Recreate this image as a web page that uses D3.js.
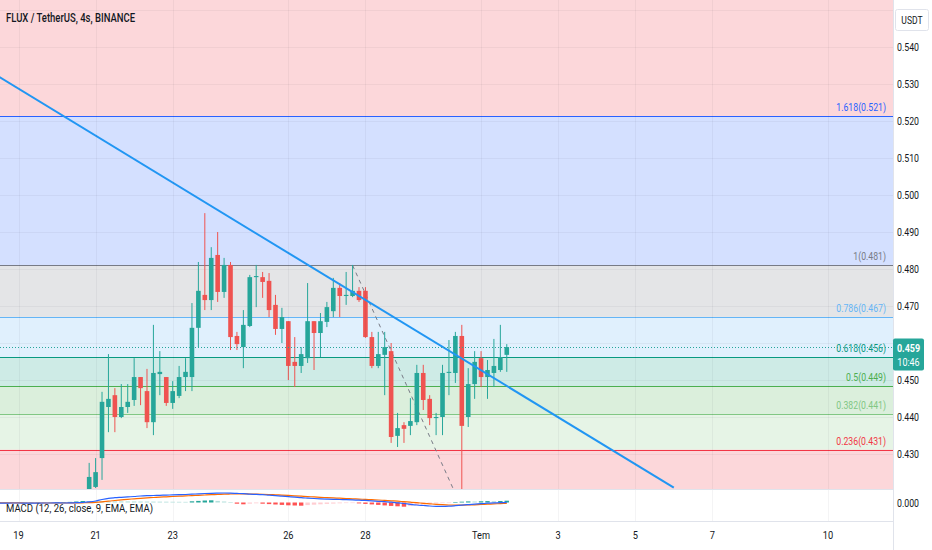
<!DOCTYPE html>
<html><head><meta charset="utf-8">
<script src="https://cdn.jsdelivr.net/npm/d3@7"></script>
<style>
html,body{margin:0;padding:0;background:#fff;}
svg{display:block;font-family:Roboto,"Liberation Sans",Arial,sans-serif;}
</style></head><body>
<svg id="chart" width="932" height="550"></svg>
<script>
// ---------------- DATA ----------------
const title = "FLUX / TetherUS, 4s, BINANCE";
const macdTitle = "MACD (12, 26, close, 9, EMA, EMA)";
const candleStart = new Date(2023, 5, 20, 20); // first visible 4h bar
const barHours = 4;
const opens = [
 .4189,.4211,.4289,.4427,.4459,.4400,.4427,.4446,.4508,.4470,
 .4386,.4516,.4508,.4438,.4457,.4508,.4508,.4641,.4730,.4716,
 .4838,.4738,.4811,.4619,.4589,.4646,.4778,.4778,.4768,.4703,
 .4638,.4659,.4549,.4538,.4559,.4659,.4627,.4657,.4686,.4749,
 .4727,.4727,.4741,.4741,.4616,.4538,.4568,.4578,.4349,.4378,
 .4376,.4386,.4519,.4449,.4397,.4400,.4519,.4519,.4619,.4400,
 .4489,.4559,.4508,.4519,.4527,.4568];
const highs = [
 .4276,.4289,.4468,.4570,.4478,.4489,.4489,.4559,.4508,.4530,
 .4649,.4578,.4508,.4497,.4538,.4559,.4708,.4819,.4951,.4859,
 .4900,.4830,.4819,.4630,.4689,.4784,.4811,.4792,.4789,.4730,
 .4695,.4659,.4616,.4589,.4762,.4659,.4681,.4711,.4776,.4762,
 .4792,.4811,.4751,.4751,.4630,.4630,.4630,.4600,.4411,.4386,
 .4451,.4541,.4541,.4459,.4411,.4541,.4608,.4630,.4649,.4532,
 .4578,.4578,.4554,.4611,.4649,.4597];
const lows = [
 .4176,.4208,.4230,.4359,.4359,.4397,.4411,.4430,.4432,.4370,
 .4351,.4459,.4430,.4422,.4451,.4470,.4470,.4589,.4689,.4689,
 .4711,.4722,.4581,.4581,.4532,.4643,.4697,.4722,.4670,.4622,
 .4600,.4500,.4481,.4519,.4546,.4527,.4562,.4643,.4670,.4670,
 .4703,.4724,.4711,.4614,.4532,.4532,.4459,.4330,.4319,.4330,
 .4351,.4378,.4419,.4378,.4351,.4351,.4459,.4492,.4195,.4373,
 .4449,.4481,.4449,.4481,.4522,.4522];
const closes = [
 .4238,.4251,.4441,.4449,.4400,.4427,.4441,.4508,.4478,.4386,
 .4519,.4522,.4438,.4470,.4508,.4522,.4641,.4741,.4716,.4830,
 .4738,.4811,.4616,.4597,.4649,.4778,.4781,.4765,.4689,.4638,
 .4670,.4538,.4538,.4570,.4659,.4627,.4659,.4697,.4749,.4727,
 .4730,.4741,.4716,.4616,.4538,.4570,.4589,.4346,.4370,.4368,
 .4389,.4519,.4446,.4397,.4400,.4519,.4522,.4619,.4376,.4489,
 .4549,.4508,.4527,.4538,.4562,.4589];

// MACD pane (values in units of 0.001), starting earlier than visible candles
const macdStart = new Date(2023, 5, 18, 12);
const macdLine = [
 -0.6,-0.6,-0.5,-0.5,-0.6,-0.7,-0.6,-0.5,-0.5,-0.4,
 -0.5,-0.4,-0.2,0.0,0.6,1.5,3.0,4.2,4.8,5.2,
 5.6,6.0,6.5,6.8,7.0,7.2,7.4,7.6,7.8,8.0,
 8.3,8.7,9.0,9.2,9.4,9.5,9.4,9.1,8.8,8.3,
 8.1,7.8,7.3,6.9,6.4,5.9,5.4,4.8,4.4,4.0,
 3.7,3.4,3.2,3.0,2.8,2.6,2.3,2.1,1.7,1.2,
 0.8,0.4,-0.3,-1.0,-1.8,-2.5,-3.0,-3.5,-3.8,-3.9,
 -3.7,-3.2,-2.6,-2.1,-1.6,-1.2,-0.7,-0.4,-0.2,0.2];
const signalLine = [
 -0.4,-0.4,-0.4,-0.4,-0.5,-0.5,-0.5,-0.5,-0.5,-0.5,
 -0.5,-0.5,-0.4,-0.3,-0.2,0.1,0.6,1.3,2.0,2.6,
 3.2,3.7,4.2,4.6,5.0,5.4,5.7,6.0,6.3,6.6,
 6.9,7.2,7.5,7.8,8.0,8.3,8.5,8.6,8.6,8.5,
 8.4,8.2,8.0,7.7,7.4,7.1,6.7,6.3,5.9,5.6,
 5.2,4.9,4.6,4.3,4.0,3.7,3.4,3.1,2.8,2.5,
 2.1,1.7,1.3,0.8,0.3,-0.2,-0.8,-1.3,-1.8,-2.2,
 -2.5,-2.6,-2.6,-2.5,-2.3,-2.0,-1.7,-1.4,-1.1,-0.8];
const histogram = [
 0.3,0.3,0.3,0.2,0.2,0.2,0.2,0.2,0.2,0.3,
 0.4,0.6,1.0,1.5,1.4,1.35,1.3,1.25,1.2,1.15,
 1.1,1.05,1.0,0.95,0.9,0.85,0.8,0.75,0.7,0.65,
 1.2,1.6,2.0,2.2,1.6,1.0,0.5,-1.2,-1.8,-1.2,
 -0.8,-1.2,-1.6,-2.0,-2.4,-2.8,-3.0,-3.2,-2.6,-2.2,
 -1.8,-1.4,-1.1,-0.8,-0.6,-0.4,-0.9,-1.4,-1.9,-2.4,
 -2.9,-3.4,-3.8,-4.2,-3.5,-2.8,-2.1,-1.5,-1.0,-0.6,
 -0.3,0.4,0.8,1.1,1.0,1.2,1.4,1.3,1.5,1.8];

// Fibonacci retracement
const fibLow = 0.4158, fibHigh = 0.4810;
const fibLevels = [2.618, 1.618, 1, 0.786, 0.618, 0.5, 0.382, 0.236, 0];
const fibColors = ["#f23645","#2962ff","#787b86","#64b5f6","#089981","#4caf50","#81c784","#f23645","#787b86"];
const fibLabels = ["", "1.618(0.521)", "1(0.481)", "0.786(0.467)", "0.618(0.456)", "0.5(0.449)", "0.382(0.441)", "0.236(0.431)", ""];

// Drawings
const trendDates = [new Date(2023,5,18,12), new Date(2023,6,6,0)];
const trendPrices = [0.5319, 0.4209];
const pathDates = [new Date(2023,5,27,16), new Date(2023,5,30,8)];
const pathPrices = [0.4810, 0.4193];

// Axes (0.460 is hidden behind the last-price label)
const priceTicks = [0.430,0.440,0.450,0.470,0.480,0.490,0.500,0.510,0.520,0.530,0.540];
const gridPrices = [0.430,0.440,0.450,0.460,0.470,0.480,0.490,0.500,0.510,0.520,0.530,0.540,0.550];
const timeTicks = [new Date(2023,5,19),new Date(2023,5,21),new Date(2023,5,23),new Date(2023,5,26),new Date(2023,5,28),
                   new Date(2023,6,1),new Date(2023,6,3),new Date(2023,6,5),new Date(2023,6,7),new Date(2023,6,10)];
const timeLabels = ["19","21","23","26","28","Tem","3","5","7","10"];
const lastPrice = 0.459, lastPriceText = "0.459", countdown = "10:46";
const currency = "USDT";

// ---------------- LAYOUT ----------------
const W = 932, axisX = 893, mainBottom = 489, macdTop = 490, macdBottom = 521;
const svg = d3.select("#chart");
const x = d3.scaleTime().domain([new Date(2023,5,19), new Date(2023,6,10)]).range([18.5, 828]);
const y = d3.scaleLinear().domain([0.430, 0.540]).range([454, 47]);
const ym = d3.scaleLinear().domain([0, 10]).range([502.5, 492.5]);
const fibPrice = l => fibLow + l * (fibHigh - fibLow);

function squeeze(sel, ratio){
  sel.each(function(){
    const w = this.getComputedTextLength();
    this.setAttribute("textLength", (w*ratio).toFixed(1));
    this.setAttribute("lengthAdjust", "spacingAndGlyphs");
  });
}
function fitTo(sel, width){
  sel.attr("textLength", width).attr("lengthAdjust", "spacingAndGlyphs");
}

const defs = svg.append("defs");
defs.append("clipPath").attr("id","clipMain").append("rect").attr("x",0).attr("y",0).attr("width",axisX).attr("height",mainBottom);
defs.append("clipPath").attr("id","clipMacd").append("rect").attr("x",0).attr("y",macdTop).attr("width",axisX).attr("height",macdBottom-macdTop);

svg.append("rect").attr("width",W).attr("height",550).attr("fill","#fff");

const main = svg.append("g").attr("clip-path","url(#clipMain)");

// fib zones
for (let i = 0; i < fibLevels.length - 1; i++) {
  const top = y(fibPrice(fibLevels[i])), bot = y(fibPrice(fibLevels[i+1]));
  main.append("rect").attr("x",0).attr("width",axisX)
    .attr("y",top).attr("height",bot-top)
    .attr("fill",fibColors[i]).attr("fill-opacity",0.2);
}

// grid
main.selectAll("line.hg").data(gridPrices).join("line")
  .attr("x1",0).attr("x2",axisX).attr("y1",d=>Math.round(y(d))+0.5).attr("y2",d=>Math.round(y(d))+0.5)
  .attr("stroke","rgba(42,46,57,0.05)");
svg.selectAll("line.vg").data(timeTicks).join("line")
  .attr("x1",d=>Math.round(x(d))+0.5).attr("x2",d=>Math.round(x(d))+0.5).attr("y1",0).attr("y2",macdBottom)
  .attr("stroke","rgba(42,46,57,0.05)");

// fib lines and labels
fibLevels.forEach((l,i)=>{
  if (!fibLabels[i]) return;
  const yy = Math.round(y(fibPrice(l))) + 0.5;
  main.append("line").attr("x1",0).attr("x2",axisX).attr("y1",yy).attr("y2",yy)
    .attr("stroke",fibColors[i]).attr("stroke-width",1);
});
fibLevels.forEach((l,i)=>{
  if (!fibLabels[i]) return;
  const yy = y(fibPrice(l));
  const t = main.append("text").attr("x",886).attr("y",yy-5).attr("text-anchor","end")
    .attr("font-size",11).attr("fill",fibColors[i]).text(fibLabels[i]);
  squeeze(t, 0.79);
});

// dashed path
main.append("path")
  .attr("d", d3.line()(pathDates.map((d,i)=>[x(d), y(pathPrices[i])])))
  .attr("stroke","#787b86").attr("stroke-width",1).attr("stroke-dasharray","4,4").attr("fill","none");

// candles
const candles = opens.map((o,i)=>({
  t: d3.timeHour.offset(candleStart, i*barHours), o, h: highs[i], l: lows[i], c: closes[i]
}));
const up = "#26a69a", down = "#ef5350", bw = 4.6;
const cg = main.append("g");
cg.selectAll("line").data(candles).join("line")
  .attr("x1",d=>x(d.t)).attr("x2",d=>x(d.t))
  .attr("y1",d=>y(d.h)).attr("y2",d=>y(d.l))
  .attr("stroke",d=>d.c>=d.o?up:down).attr("stroke-width",1);
cg.selectAll("rect").data(candles).join("rect")
  .attr("x",d=>x(d.t)-bw/2).attr("width",bw)
  .attr("y",d=>y(Math.max(d.o,d.c)))
  .attr("height",d=>Math.max(1, Math.abs(y(d.o)-y(d.c))))
  .attr("fill",d=>d.c>=d.o?up:down);

// trend line
main.append("path")
  .attr("d", d3.line()(trendDates.map((d,i)=>[x(d), y(trendPrices[i])])))
  .attr("stroke","#2196f3").attr("stroke-width",2).attr("fill","none");

// last price dotted line
const ly = Math.round(y(lastPrice)) + 0.5;
svg.append("line").attr("x1",0).attr("x2",axisX).attr("y1",ly).attr("y2",ly)
  .attr("stroke","#26a69a").attr("stroke-width",1).attr("stroke-dasharray","1,2");

// title
const tt = svg.append("text").attr("x",6).attr("y",22).attr("font-size",13).attr("font-weight",500)
  .attr("fill","#131722").text(title);
fitTo(tt, 129);

// pane separators
svg.append("line").attr("x1",0).attr("x2",axisX).attr("y1",mainBottom+0.5).attr("y2",mainBottom+0.5).attr("stroke","#e0e3eb");
svg.append("line").attr("x1",0).attr("x2",W).attr("y1",macdBottom+0.5).attr("y2",macdBottom+0.5).attr("stroke","#e0e3eb");

// MACD pane
const mg = svg.append("g").attr("clip-path","url(#clipMacd)");
const mDates = macdLine.map((_,j)=>d3.timeHour.offset(macdStart, j*barHours));
mg.selectAll("rect").data(histogram).join("rect")
  .attr("x",(d,j)=>x(mDates[j])-2.2).attr("width",4.4)
  .attr("y",d=>Math.min(ym(d), ym(0)))
  .attr("height",d=>Math.max(0.6, Math.abs(ym(d)-ym(0))))
  .attr("fill",(d,j)=>{
    const prev = j>0 ? histogram[j-1] : d;
    if (d >= 0) return prev < d ? "#26a69a" : "#b2dfdb";
    return prev < d ? "#ffcdd2" : "#ff5252";
  });
const ml = d3.line().x((d,j)=>x(mDates[j])).y(d=>ym(d)).curve(d3.curveMonotoneX);
mg.append("path").attr("d", ml(signalLine)).attr("stroke","#ff6d00").attr("stroke-width",1.2).attr("fill","none");
mg.append("path").attr("d", ml(macdLine)).attr("stroke","#2962ff").attr("stroke-width",1.2).attr("fill","none");
const mt = svg.append("text").attr("x",6).attr("y",512).attr("font-size",11.5).attr("fill","#131722").text(macdTitle);
fitTo(mt, 147);

// right axis
svg.append("rect").attr("x",axisX).attr("y",0).attr("width",W-axisX).attr("height",550).attr("fill","#fff");
svg.append("line").attr("x1",axisX+0.5).attr("x2",axisX+0.5).attr("y1",0).attr("y2",550).attr("stroke","#e0e3eb");
const pl = svg.selectAll("text.pt").data(priceTicks).join("text")
  .attr("x",897).attr("y",d=>y(d)+4).attr("font-size",11.5).attr("fill","#131722")
  .text(d=>d3.format(".3f")(d));
squeeze(pl, 0.76);
const zt = svg.append("text").attr("x",897).attr("y",ym(0)+4).attr("font-size",11.5).attr("fill","#131722").text("0.000");
squeeze(zt, 0.76);

// currency box
svg.append("rect").attr("x",895.5).attr("y",9.5).attr("width",33).attr("height",21).attr("rx",2)
  .attr("fill","#fff").attr("stroke","#e0e3eb");
const ct = svg.append("text").attr("x",912).attr("y",24).attr("text-anchor","middle").attr("font-size",11)
  .attr("fill","#131722").text(currency);
squeeze(ct, 0.78);

// last price label
svg.append("rect").attr("x",893).attr("y",ly-9).attr("width",31).attr("height",32).attr("rx",2).attr("fill","#26a69a");
const lp1 = svg.append("text").attr("x",908.5).attr("y",ly+4).attr("text-anchor","middle").attr("font-size",11.5)
  .attr("font-weight",700).attr("fill","#fff").text(lastPriceText);
squeeze(lp1, 0.78);
const lp2 = svg.append("text").attr("x",908.5).attr("y",ly+18).attr("text-anchor","middle").attr("font-size",11.5)
  .attr("fill","#fff").text(countdown);
squeeze(lp2, 0.78);

// time axis
const tl = svg.selectAll("text.tl").data(timeTicks).join("text")
  .attr("x",d=>x(d)).attr("y",539).attr("text-anchor","middle").attr("font-size",11.5).attr("fill","#131722")
  .text((d,i)=>timeLabels[i]);
squeeze(tl, 0.8);
</script>
</body></html>
